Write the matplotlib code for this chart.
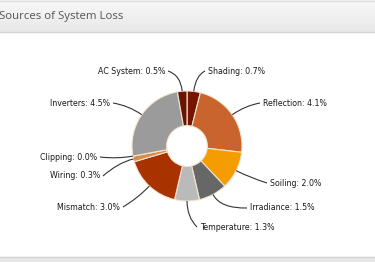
import numpy as np
import matplotlib
matplotlib.use("Agg")
import matplotlib.pyplot as plt
from matplotlib.path import Path
from matplotlib.patches import PathPatch

# loss sources, clockwise from 12 o'clock
labels = ["Shading", "Reflection", "Soiling", "Irradiance", "Temperature",
          "Mismatch", "Wiring", "Clipping", "Inverters", "AC System"]
losses = [0.7, 4.1, 2.0, 1.5, 1.3, 3.0, 0.3, 0.0, 4.5, 0.5]
colors = ["#761500", "#c9642e", "#f59c00", "#676767", "#bababa",
          "#a83300", "#d88b48", "#e0a060", "#9b9b9b", "#6a1400"]

W, H = 375, 262
cx, cy, r = 187, H - 146, 55

# where each label text sits (pixels from top-left) and which side
label_pos = [(208, 71, "left"), (263, 103, "left"), (270, 183, "left"),
             (250, 208, "left"), (200, 227, "left"), (120, 207, "right"),
             (100, 176, "right"), (97, 157, "right"), (110, 103, "right"),
             (165, 71, "right")]

fig = plt.figure(figsize=(W / 100, H / 100), dpi=100)
ax = fig.add_axes([0, 0, 1, 1])

# header bar with soft gradient
grad = np.linspace(0, 1, 50).reshape(-1, 1)
ax.imshow(grad, extent=(0, W, H - 32, H), cmap=matplotlib.colors.LinearSegmentedColormap.from_list(
    "hdr", ["#e8e8e8", "#f8f8f8"]), aspect="auto", zorder=0, origin="lower")
ax.plot([0, W], [H - 32, H - 32], color="#d4d4d4", lw=1, zorder=1)
ax.plot([0, W], [H - 0.5, H - 0.5], color="#dddddd", lw=1, zorder=1)
ax.text(-1, H - 16, "Sources of System Loss", fontsize=8.2, family="Open Sans",
        color="#555555", va="center", ha="left")

# footer strip
ax.add_patch(plt.Rectangle((0, 0), W, 5, color="#e6e6e6", zorder=0))
ax.plot([0, W], [5, 5], color="#d6d6d6", lw=1, zorder=1)

wedges, _ = ax.pie(losses, colors=colors, startangle=90, counterclock=False,
                   center=(cx, cy), radius=r,
                   wedgeprops=dict(width=r * 0.63, edgecolor="#f2e4d2", linewidth=0.8))

total = sum(losses)
start = 90.0
for name, val, (lx, ly, side) in zip(labels, losses, label_pos):
    sweep = val / total * 360
    mid = np.radians(start - sweep / 2)
    start -= sweep
    ly = H - ly
    p0 = (cx + r * np.cos(mid), cy + r * np.sin(mid))
    p1 = (cx + (r + 16) * np.cos(mid), cy + (r + 16) * np.sin(mid))
    tip = (lx - 3, ly) if side == "left" else (lx + 3, ly)
    path = Path([p0, p1, tip], [Path.MOVETO, Path.CURVE3, Path.CURVE3])
    ax.add_patch(PathPatch(path, fc="none", ec="#333333", lw=0.8, zorder=3))
    ax.text(lx, ly, f"{name}: {val:.1f}%", fontsize=5.7, family="DejaVu Sans",
            color="#1a1a1a", ha=side, va="center", zorder=4)

ax.set_xlim(0, W)
ax.set_ylim(0, H)
ax.set_aspect("auto")
ax.axis("off")
fig.savefig("out.png", dpi=100)
